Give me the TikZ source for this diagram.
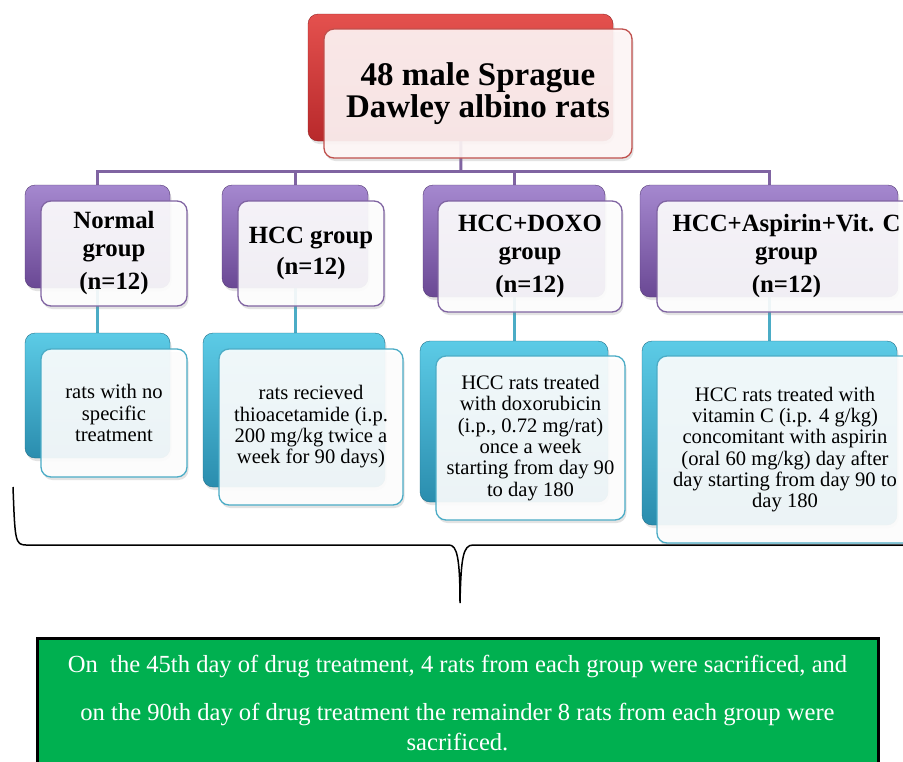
\documentclass[tikz,border=0pt]{standalone}
\usepackage{fontspec}
\setmainfont{Liberation Serif}
\usetikzlibrary{shadows}
\definecolor{redT}{HTML}{E4514E}
\definecolor{redB}{HTML}{B8292B}
\definecolor{redL}{HTML}{C0504D}
\definecolor{purT}{HTML}{A588CF}
\definecolor{purB}{HTML}{6A4894}
\definecolor{purL}{HTML}{8064A2}
\definecolor{cyaT}{HTML}{5CCBE6}
\definecolor{cyaB}{HTML}{2A8DAE}
\definecolor{cyaL}{HTML}{4BACC6}
\definecolor{grn}{HTML}{00B050}
\tikzset{
  shd/.style={drop shadow={opacity=0.22, shadow xshift=1.5pt, shadow yshift=-3pt}},
  backbox/.style={rounded corners=10pt, inner sep=0pt, shd},
  rback/.style={backbox, top color=redT, bottom color=redB, draw=redB!80!black, line width=0.4pt},
  pback/.style={backbox, top color=purT, bottom color=purB, draw=purB!80!black, line width=0.4pt},
  cback/.style={backbox, top color=cyaT, bottom color=cyaB, draw=cyaB!80!black, line width=0.4pt},
  front/.style={rounded corners=10pt, inner sep=0pt, fill=white, fill opacity=0.9, text opacity=1, line width=1.3pt, align=center, shd},
  rfront/.style={front, draw=redL, fill=red!3!white},
  pfront/.style={front, draw=purL},
  cfront/.style={front, draw=cyaL},
  pline/.style={draw=purL, line width=3pt},
  cline/.style={draw=cyaL, line width=3pt},
  ttl/.style={font=\fontsize{33}{32}\selectfont\bfseries},
  grp/.style={font=\fontsize{24.8}{27.5}\selectfont\bfseries},
  trt/.style={font=\fontsize{20.6}{21.3}\selectfont},
}
\begin{document}
\begin{tikzpicture}[x=1pt,y=-1pt]
\useasboundingbox (0,0) rectangle (903,761);
\clip (0,0) rectangle (903,761);
\fill[white] (0,0) rectangle (903,761);

% placeholders for the back boxes (named, used by connectors)
\path node[inner sep=0pt, minimum width=305pt, minimum height=127pt] (topb) at (460.5,77.5) {}
      node[inner sep=0pt, minimum width=145pt, minimum height=103pt] (g1b) at (97.5,236.5) {}
      node[inner sep=0pt, minimum width=146pt, minimum height=103pt] (g2b) at (295,236.5) {}
      node[inner sep=0pt, minimum width=182pt, minimum height=112pt] (g3b) at (514,241) {}
      node[inner sep=0pt, minimum width=258pt, minimum height=112pt] (g4b) at (769,241) {}
      node[inner sep=0pt, minimum width=145pt, minimum height=125pt] (t1b) at (97.5,395.5) {}
      node[inner sep=0pt, minimum width=182pt, minimum height=154pt] (t2b) at (294,410) {}
      node[inner sep=0pt, minimum width=188pt, minimum height=161pt] (t3b) at (514,421.5) {}
      node[inner sep=0pt, minimum width=255pt, minimum height=184pt] (t4b) at (769.5,433) {};
\coordinate (bus) at (461,171);

% connectors drawn behind the boxes
\draw[pline] (topb.center) -- (bus);
\draw[pline] (bus) -| (g1b.north);
\draw[pline] (bus) -| (g2b.north);
\draw[pline] (bus) -| (g3b.north);
\draw[pline] (bus) -| (g4b.north);
\foreach \i in {1,2,3,4}{
  \draw[cline] (g\i b.center) -- (g\i b.center |- t\i b.north);
}

% shaded back boxes
\node[rback, minimum width=305pt, minimum height=127pt] at (topb) {};
\node[pback, minimum width=145pt, minimum height=103pt] at (g1b) {};
\node[pback, minimum width=146pt, minimum height=103pt] at (g2b) {};
\node[pback, minimum width=182pt, minimum height=112pt] at (g3b) {};
\node[pback, minimum width=258pt, minimum height=112pt] at (g4b) {};
\node[cback, minimum width=145pt, minimum height=125pt] at (t1b) {};
\node[cback, minimum width=182pt, minimum height=154pt] at (t2b) {};
\node[cback, minimum width=188pt, minimum height=161pt] at (t3b) {};
\node[cback, minimum width=255pt, minimum height=184pt] at (t4b) {};

% front boxes
\node[rfront, ttl, minimum width=308pt, minimum height=129pt] (topf) at (478,93.5)
  {48 male Sprague\\Dawley albino rats};

\node[pfront, grp, minimum width=146pt, minimum height=105pt] (g1f) at (114,253.5)
  {Normal\\group\\[6pt](n=12)};
\node[pfront, grp, minimum width=146pt, minimum height=105pt] (g2f) at (311,253.5)
  {HCC group\\[4pt](n=12)};
\node[pfront, grp, minimum width=184pt, minimum height=111pt] (g3f) at (530,256.5)
  {HCC+DOXO\\group\\[6pt](n=12)};
\node[pfront, grp, minimum width=259pt, minimum height=111pt] (g4f) at (786.5,256.5)
  {HCC+Aspirin+Vit. C\\group\\[6pt](n=12)};

\node[cfront, trt, minimum width=146pt, minimum height=128pt] (t1f) at (114,413)
  {rats with no\\specific\\treatment};
\node[cfront, trt, minimum width=184pt, minimum height=156pt] (t2f) at (311,427)
  {rats recieved\\thioacetamide (i.p.\\200 mg/kg twice a\\week for 90 days)};
\node[cfront, trt, minimum width=189pt, minimum height=164pt] (t3f) at (530.5,438)
  {HCC rats treated\\with doxorubicin\\(i.p., 0.72 mg/rat)\\once a week\\starting from day 90\\to day 180};
\node[cfront, trt, minimum width=256pt, minimum height=187pt] (t4f) at (785,449.5)
  {HCC rats treated with\\vitamin C (i.p. 4 g/kg)\\concomitant with aspirin\\(oral 60 mg/kg) day after\\day starting from day 90 to\\day 180};

% brace
\coordinate (brL) at (13,487);
\coordinate (brM) at (460,603);
\coordinate (brR) at (910,545);
\draw[line width=1.5pt, black]
  (brL) .. controls (15,540) and (15,545) .. (26,545) -- (449,545)
  .. controls (457,545) and (460,558) .. (brM)
  .. controls (461,558) and (463,545) .. (473,545) -- (brR);

% result box
\node[draw=black, line width=3pt, fill=grn, text=white, align=center,
      minimum width=841pt, minimum height=130pt, inner sep=0pt,
      font=\fontsize{24.6}{30}\selectfont] (res) at (457.5,703)
  {On\ \ the 45th day of drug treatment, 4 rats from each group were sacrificed, and\\[18pt]
   on the 90th day of drug treatment the remainder 8 rats from each group were\\
   sacrificed.};
\end{tikzpicture}
\end{document}
